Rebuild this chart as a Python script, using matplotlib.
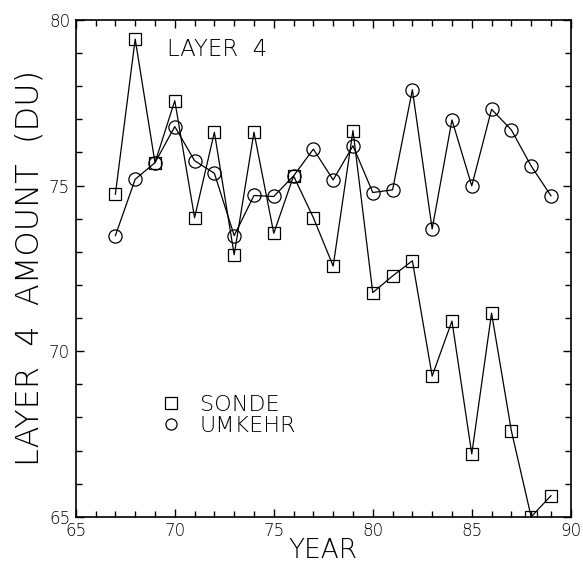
import numpy as np
import matplotlib.pyplot as plt
from matplotlib.lines import Line2D

plt.rcParams['font.family'] = ['DejaVu Sans']
plt.rcParams['font.weight'] = 'light'
plt.rcParams['axes.labelweight'] = 'light'

# 数据
years = np.arange(67, 90)
sonde = [74.74, 79.42, 75.69, 77.56, 74.03, 76.61, 72.91, 76.61, 73.56, 75.29,
         74.03, 72.57, 76.66, 71.77, 72.27, 72.73, 69.25, 70.91, 66.90, 71.15,
         67.60, 65.00, 65.64]
umkehr = [73.49, 75.19, 75.69, 76.78, 75.75, 75.37, 73.49, 74.70, 74.67, 75.29,
          76.10, 75.17, 76.20, 74.79, 74.87, 77.89, 73.69, 76.98, 74.99, 77.30,
          76.68, 75.59, 74.69]

fig = plt.figure(figsize=(5.83, 5.68), dpi=100)
ax = fig.add_axes([0.130, 0.090, 0.849, 0.875])

ax.plot(years, sonde, color='black', lw=0.9, marker='s', ms=8.5,
        mfc='none', mec='black', mew=0.9)
ax.plot(years, umkehr, color='black', lw=0.9, marker='o', ms=9.5,
        mfc='none', mec='black', mew=0.9)

ax.set_xlim(65, 90)
ax.set_ylim(65, 80)
ax.set_xticks(np.arange(65, 91, 5))
ax.set_yticks(np.arange(65, 81, 5))
ax.set_xticks(np.arange(65, 91, 1), minor=True)
ax.set_yticks(np.arange(65, 81, 1), minor=True)
ax.tick_params(which='both', direction='in', top=True, right=True,
               labelsize=12, width=1)
ax.tick_params(which='major', length=6, pad=4)
ax.tick_params(which='minor', length=4.5)
for s in ax.spines.values():
    s.set_linewidth(1.2)

ax.set_xlabel('YEAR', fontsize=19, labelpad=-2)
ax.set_ylabel('LAYER  4  AMOUNT  (DU)', fontsize=23, labelpad=3)

ax.text(0.185, 0.94, 'LAYER  4', transform=ax.transAxes, fontsize=16.5,
        va='center', ha='left')

handles = [Line2D([], [], ls='none', marker='s', ms=8, mfc='none', mec='black', mew=0.9),
           Line2D([], [], ls='none', marker='o', ms=8, mfc='none', mec='black', mew=0.9)]
ax.legend(handles, ['SONDE', 'UMKEHR'], loc='upper left',
          bbox_to_anchor=(0.17, 0.245), frameon=False, fontsize=16,
          handlelength=1.0, handletextpad=0.8, labelspacing=0.05,
          borderpad=0, borderaxespad=0)

plt.savefig('out.png', dpi=100)
